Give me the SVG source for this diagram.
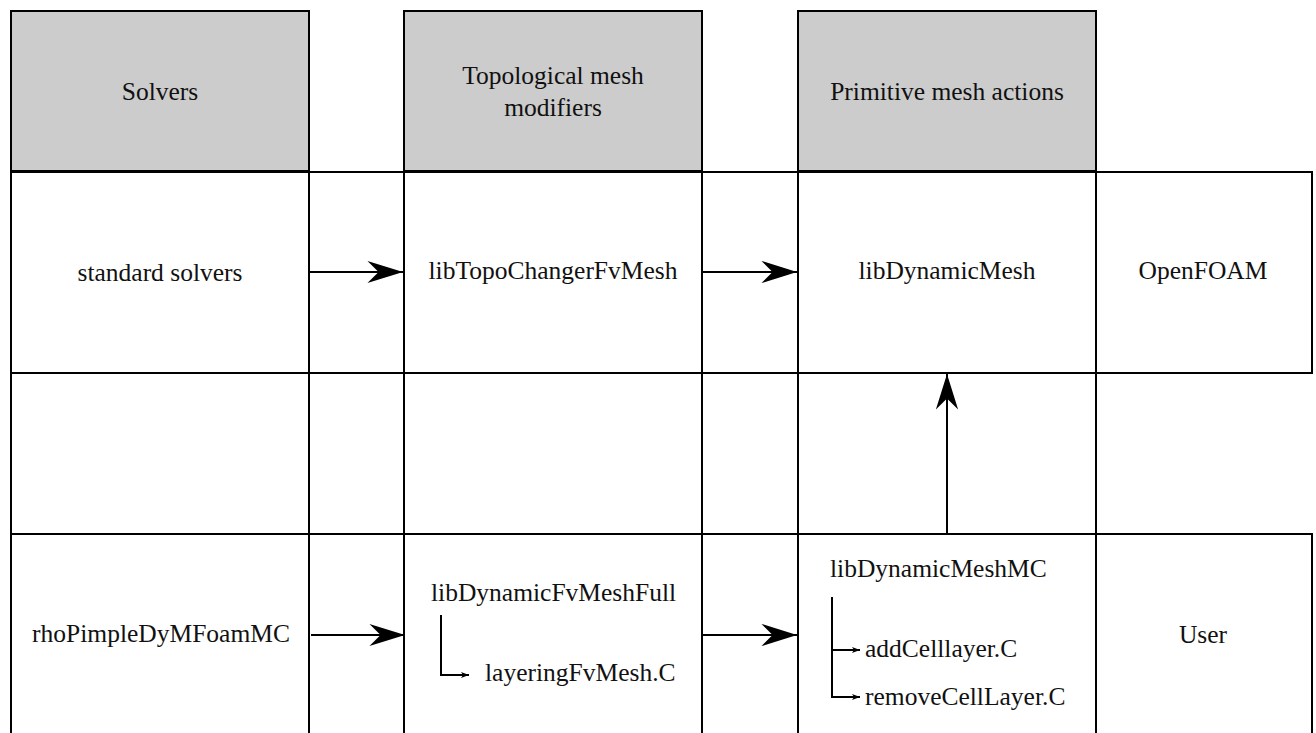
<svg xmlns="http://www.w3.org/2000/svg" width="1316" height="733" viewBox="0 0 1316 733">
  <style>
    .lane { fill: #ffffff; stroke: #000; stroke-width: 2; }
    .head { fill: #cccccc; stroke: #000; stroke-width: 2; }
    .row { fill: none; stroke: #000; stroke-width: 2; }
    .lbl { font-family: "Liberation Serif", "Times New Roman", serif; font-size: 25.5px; fill: #111; }
    .mid { text-anchor: middle; }
    .edge { fill: none; stroke: #000; stroke-width: 2; }
    .tree { fill: none; stroke: #000; stroke-width: 2; }
  </style>
  <defs>
    <marker id="big" markerUnits="userSpaceOnUse" markerWidth="40" markerHeight="30" viewBox="-34 -12 36 24" refX="0" refY="0" orient="auto">
      <path d="M0,0 L-32,-10 L-22,0 L-32,10 Z" fill="#000"/>
    </marker>
    <marker id="small" markerUnits="userSpaceOnUse" markerWidth="12" markerHeight="8" viewBox="-9 -4 10 8" refX="0" refY="0" orient="auto">
      <path d="M0,0 L-8,-3 L-6,0 L-8,3 Z" fill="#000"/>
    </marker>
  </defs>

  <rect width="1316" height="733" fill="#ffffff"/>

  <!-- swimlane columns -->
  <g id="lane-solvers">
    <rect class="lane" x="11" y="11" width="298" height="740"/>
    <rect class="head" x="11" y="11" width="298" height="160"/>
    <text class="lbl mid" x="160" y="100">Solvers</text>
  </g>
  <g id="lane-topo">
    <rect class="lane" x="404" y="11" width="298" height="740"/>
    <rect class="head" x="404" y="11" width="298" height="160"/>
    <text class="lbl mid" x="553" y="84">Topological mesh</text>
    <text class="lbl mid" x="553" y="116">modifiers</text>
  </g>
  <g id="lane-primitive">
    <rect class="lane" x="798" y="11" width="298" height="740"/>
    <rect class="head" x="798" y="11" width="298" height="160"/>
    <text class="lbl mid" x="947" y="100">Primitive mesh actions</text>
  </g>

  <!-- layer rows -->
  <g id="row-openfoam">
    <rect class="row" x="11" y="172" width="1301" height="201"/>
    <text class="lbl mid" x="1203" y="279">OpenFOAM</text>
  </g>
  <g id="row-user">
    <rect class="row" x="11" y="534" width="1301" height="220"/>
    <text class="lbl mid" x="1203" y="643">User</text>
  </g>

  <!-- nodes -->
  <g id="standard-solvers">
    <text class="lbl mid" x="160" y="281">standard solvers</text>
  </g>
  <g id="libTopoChangerFvMesh">
    <text class="lbl mid" x="553" y="279">libTopoChangerFvMesh</text>
  </g>
  <g id="libDynamicMesh">
    <text class="lbl mid" x="947" y="279">libDynamicMesh</text>
  </g>
  <g id="rhoPimpleDyMFoamMC">
    <text class="lbl mid" x="161" y="642">rhoPimpleDyMFoamMC</text>
  </g>
  <g id="libDynamicFvMeshFull">
    <text class="lbl" x="431" y="601">libDynamicFvMeshFull</text>
    <path class="tree" d="M441,615 V675 H469" marker-end="url(#small)"/>
    <text class="lbl" x="485" y="681">layeringFvMesh.C</text>
  </g>
  <g id="libDynamicMeshMC">
    <text class="lbl" x="830" y="577">libDynamicMeshMC</text>
    <path class="tree" d="M832,597 V697 H860" marker-end="url(#small)"/>
    <path class="tree" d="M832,650 H860" marker-end="url(#small)"/>
    <text class="lbl" x="865" y="657">addCelllayer.C</text>
    <text class="lbl" x="865" y="705">removeCellLayer.C</text>
  </g>

  <!-- connectors -->
  <g id="connectors">
    <line class="edge" x1="310" y1="272" x2="403" y2="272" marker-end="url(#big)"/>
    <line class="edge" x1="703" y1="272" x2="797" y2="272" marker-end="url(#big)"/>
    <line class="edge" x1="311" y1="635" x2="405" y2="635" marker-end="url(#big)"/>
    <line class="edge" x1="703" y1="635" x2="797" y2="635" marker-end="url(#big)"/>
    <line class="edge" x1="947" y1="534" x2="947" y2="374" marker-end="url(#big)"/>
  </g>
</svg>
